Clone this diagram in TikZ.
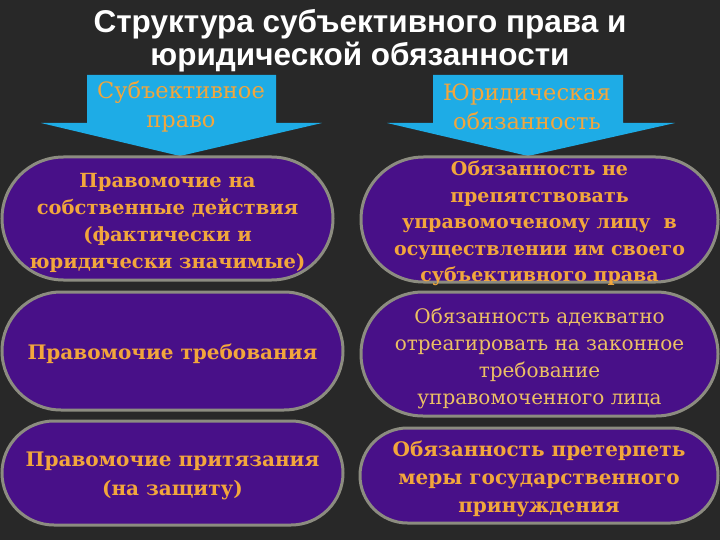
\documentclass[tikz,border=0pt]{standalone}
\usepackage{fontspec}
\setmainfont{DejaVu Serif}
\newfontfamily\titlefont{Liberation Sans}
\definecolor{bgc}{RGB}{40,40,40}
\definecolor{capfill}{RGB}{72,16,136}
\definecolor{capline}{RGB}{140,140,128}
\definecolor{orangetxt}{RGB}{242,166,60}
\definecolor{goldtxt}{RGB}{236,192,100}
\definecolor{arrowblue}{RGB}{30,172,230}
\tikzset{
  capsule/.style={draw=capline, fill=capfill, line width=3pt, inner sep=0pt},
  captext/.style={align=center, text=orangetxt, font=\bfseries\fontsize{20}{28}\selectfont, inner sep=0pt},
  arrowtxt/.style={text=orangetxt, align=center, font=\fontsize{22.5}{29}\selectfont, inner sep=0pt},
  bluearrow/.style={fill=arrowblue},
}
\begin{document}
\begin{tikzpicture}[x=1pt,y=-1pt]
\fill[bgc] (0,0) rectangle (720,540);
\useasboundingbox (0,0) rectangle (720,540);
% title
\node[text=white, align=center, font=\titlefont\bfseries\fontsize{31.5}{33}\selectfont, inner sep=0pt] (title) at (360,41)
  {Структура субъективного права и\\юридической обязанности};
% arrows
\fill[bluearrow] (87,75) -- (276,75) -- (276,123) -- (322,123) -- (180,156) -- (41,123) -- (87,123) -- cycle;
\node[arrowtxt] (subj) at (181,107) {Субъективное\\право};
\fill[bluearrow] (433,75) -- (623,75) -- (623,123) -- (675,123) -- (528,156) -- (387,123) -- (433,123) -- cycle;
\node[arrowtxt] (jur) at (527,107) {Юридическая\\обязанность};
% capsules
\node[capsule, minimum width=331pt, minimum height=123pt, rounded corners=61.5pt] (l1) at (167.5,218.5) {};
\node[captext, font=\bfseries\fontsize{19.5}{27}\selectfont] (l1t) at ([yshift=-4pt]l1.center)
  {Правомочие на\\собственные действия\\(фактически и\\юридически значимые)};
\node[capsule, minimum width=357pt, minimum height=125pt, rounded corners=62.5pt] (r1) at (539.5,219.5) {};
\node[captext, font=\bfseries\fontsize{19}{26.5}\selectfont] (r1t) at ([yshift=-4pt]r1.center)
  {Обязанность не\\препятствовать\\управомоченому лицу\ \ в\\осуществлении им своего\\субъективного права};
\node[capsule, minimum width=341pt, minimum height=118pt, rounded corners=59pt] (l2) at (172.5,351) {};
\node[captext] (l2t) at ([yshift=-3pt]l2.center) {Правомочие требования};
\node[capsule, minimum width=357pt, minimum height=124pt, rounded corners=62pt] (r2) at (539.5,354) {};
\node[captext, text=goldtxt, font=\fontsize{20}{27}\selectfont] (r2t) at ([yshift=-4pt]r2.center)
  {Обязанность адекватно\\отреагировать на законное\\требование\\управомоченного лица};
\node[capsule, minimum width=341pt, minimum height=104pt, rounded corners=52pt] (l3) at (172.5,473) {};
\node[captext, font=\bfseries\fontsize{20}{29.5}\selectfont] (l3t) at ([yshift=-3pt]l3.center)
  {Правомочие притязания\\(на защиту)};
\node[capsule, minimum width=358pt, minimum height=95pt, rounded corners=47.5pt] (r3) at (539,475.5) {};
\node[captext] (r3t) at ([yshift=-3pt]r3.center)
  {Обязанность претерпеть\\меры государственного\\принуждения};
\end{tikzpicture}
\end{document}
